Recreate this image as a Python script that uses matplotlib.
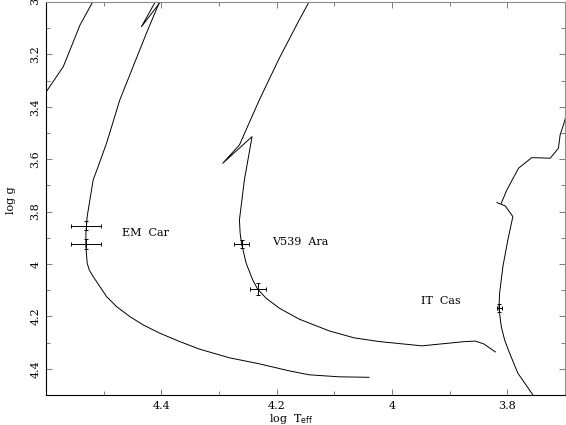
import matplotlib
matplotlib.use('Agg')
import matplotlib.pyplot as plt
from matplotlib.ticker import MultipleLocator

plt.rcParams['font.family'] = ['DejaVu Serif']

# evolutionary tracks (log Teff, log g)
em_left_x = [4.5165, 4.541, 4.570, 4.600]
em_left_y = [2.99, 3.088, 3.247, 3.344]

em_x = [4.4029, 4.4259, 4.4490, 4.4720, 4.4950, 4.5096, 4.5182, 4.5239, 4.5286, 4.5308,
        4.5308, 4.5286, 4.5251, 4.5182, 4.5066, 4.4950, 4.4777, 4.4547, 4.4317, 4.4029,
        4.3683, 4.3337, 4.2818, 4.2300, 4.1781, 4.1435, 4.0916, 4.0397]
em_y = [2.999, 3.1198, 3.2471, 3.3741, 3.5393, 3.6285, 3.6793, 3.7555, 3.8192, 3.8825,
        3.9336, 3.9969, 4.0225, 4.0481, 4.0862, 4.1243, 4.1625, 4.2006, 4.2323, 4.2639,
        4.2960, 4.3250, 4.3581, 4.3810, 4.4079, 4.4230, 4.4306, 4.4325]

em_hook_x = [4.408, 4.4345, 4.398]
em_hook_y = [2.99, 3.0946, 2.99]

v539_x = [4.1435, 4.1608, 4.1954, 4.2300, 4.2645, 4.2934, 4.2732, 4.2426, 4.2559, 4.2645,
          4.2633, 4.2606, 4.2529, 4.2415, 4.2329, 4.2184, 4.1954, 4.1608, 4.1089, 4.0657,
          4.0224, 3.9481, 3.8725, 3.8552, 3.8409, 3.8206]
v539_y = [2.999, 3.0690, 3.2151, 3.3741, 3.5458, 3.6156, 3.5751, 3.5141, 3.6793, 3.8318,
          3.8825, 3.9245, 3.9969, 4.0607, 4.0961, 4.1304, 4.1686, 4.2105, 4.2552, 4.2819,
          4.2960, 4.3124, 4.2960, 4.2944, 4.3047, 4.3356]

itcas_top_x = [3.699, 3.7025, 3.7082, 3.7112, 3.7255, 3.7574, 3.7804, 3.8006, 3.8103]
itcas_top_y = [3.4428, 3.4695, 3.5076, 3.5584, 3.5965, 3.5942, 3.6346, 3.7174, 3.7681]

itcas_x = [3.8179, 3.8034, 3.7902, 3.7989, 3.8075, 3.8132, 3.8144, 3.8103, 3.8046,
           3.7959, 3.7816, 3.7556, 3.752]
itcas_y = [3.7658, 3.7784, 3.8192, 3.9081, 4.0099, 4.1114, 4.1686, 4.2388, 4.2895,
           4.3402, 4.4165, 4.4992, 4.51]

# observed stars
star_x = [4.5312, 4.5312, 4.2606, 4.2329, 3.8137]
star_y = [3.8547, 3.9233, 3.9245, 4.0961, 4.1686]
star_xerr = [0.026, 0.026, 0.0127, 0.014, 0.0047]
star_yerr = [0.017, 0.018, 0.016, 0.023, 0.016]

labels = ['EM  Car', 'V539  Ara', 'IT  Cas']
label_x = [4.468, 4.208, 3.9503]
label_y = [3.8825, 3.9146, 4.1407]

fig = plt.figure(figsize=(5.66, 4.25), dpi=100)
ax = fig.add_axes([0.0813, 0.0706, 0.9167, 0.9249])

lw = 0.7
ax.plot(em_left_x, em_left_y, color='black', lw=lw)
ax.plot(em_x, em_y, color='black', lw=lw)
ax.plot(em_hook_x, em_hook_y, color='black', lw=lw)
ax.plot(v539_x, v539_y, color='black', lw=lw)
ax.plot(itcas_top_x, itcas_top_y, color='black', lw=lw)
ax.plot(itcas_x, itcas_y, color='black', lw=lw)

ax.errorbar(star_x, star_y, xerr=star_xerr, yerr=star_yerr, fmt='none',
            ecolor='black', elinewidth=0.7, capsize=1.5, capthick=0.7)

for t, x, y in zip(labels, label_x, label_y):
    ax.text(x, y, t, fontsize=8, ha='left', va='center')

ax.set_xlim(4.6, 3.7)
ax.set_ylim(4.5, 3.0)

ax.xaxis.set_minor_locator(MultipleLocator(0.1))
ax.yaxis.set_minor_locator(MultipleLocator(0.1))
ax.set_xticks([4.4, 4.2, 4.0, 3.8])
ax.set_xticklabels(['4.4', '4.2', '4', '3.8'])
ax.set_yticks([3.0, 3.2, 3.4, 3.6, 3.8, 4.0, 4.2, 4.4])
ax.set_yticklabels(['3', '3.2', '3.4', '3.6', '3.8', '4', '4.2', '4.4'],
                   rotation=90, va='center')

ax.tick_params(which='both', direction='in', top=True, right=True, labelsize=8,
               width=0.6, color='0.4')
ax.tick_params(which='major', length=4, pad=4)
ax.tick_params(which='minor', length=3)

for s in ['left', 'bottom']:
    ax.spines[s].set_linewidth(0.8)
for s in ['top', 'right']:
    ax.spines[s].set_color('0.55')
    ax.spines[s].set_linewidth(0.8)

ax.set_xlabel(r'log  T$_{\rm eff}$', fontsize=8)
ax.xaxis.set_label_coords(0.472, -0.044)
ax.set_ylabel('log g', fontsize=8)
ax.yaxis.set_label_coords(-0.058, 0.496)

fig.savefig('out.png', dpi=100)
